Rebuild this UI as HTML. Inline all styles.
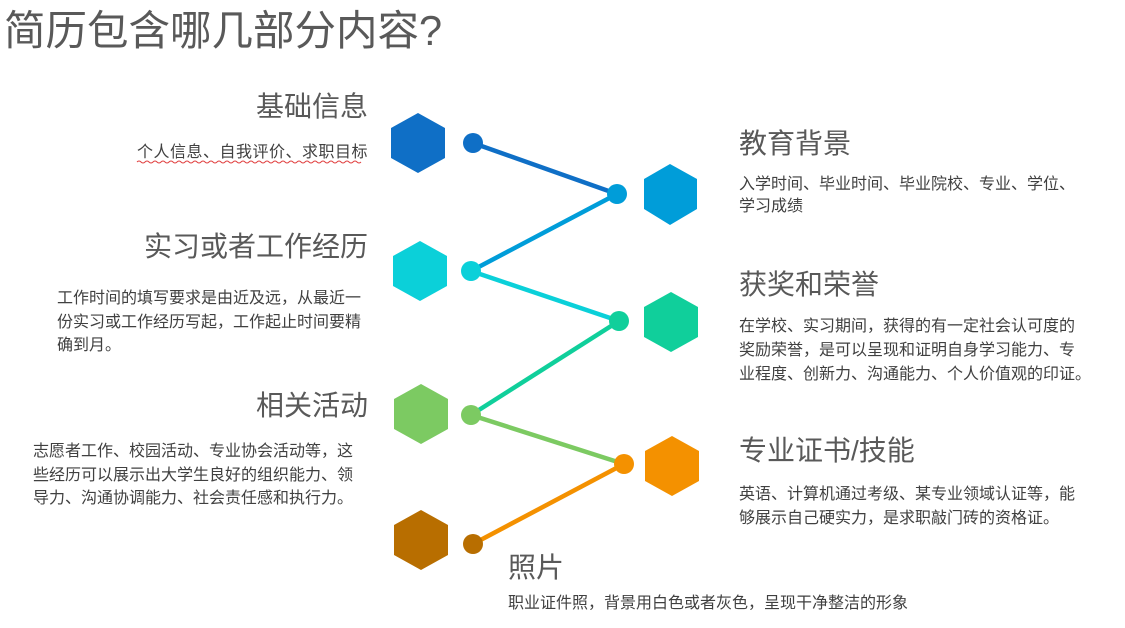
<!DOCTYPE html>
<html><head><meta charset="utf-8"><style>
body{margin:0;width:1125px;height:628px;background:#fff;position:relative;overflow:hidden;font-family:"Liberation Sans","Noto Sans CJK SC",sans-serif;color:#595959}
div{position:absolute;white-space:nowrap}
.h{font-size:28px;line-height:34px}
.p{font-size:16px;line-height:23.5px;color:#404040}
.r{text-align:right}
</style></head><body>
<div style="left:4px;top:6px;font-size:41.5px;line-height:50px;color:#595959">简历包含哪几部分内容?</div>
<svg width="1125" height="628" style="position:absolute;left:0;top:0">
<g stroke-width="4.5">
<line x1="473" y1="143" x2="617" y2="194" stroke="#0f6fc6"/>
<line x1="617" y1="194" x2="471" y2="271" stroke="#009dd9"/>
<line x1="471" y1="271" x2="619" y2="321" stroke="#0bd0d9"/>
<line x1="619" y1="321" x2="471" y2="415" stroke="#10cf9b"/>
<line x1="471" y1="415" x2="624" y2="464" stroke="#7cca62"/>
<line x1="624" y1="464" x2="473" y2="544" stroke="#f49100"/>
</g>
<circle cx="473" cy="143" r="10" fill="#0f6fc6"/>
<circle cx="617" cy="194" r="10" fill="#009dd9"/>
<circle cx="471" cy="271" r="10" fill="#0bd0d9"/>
<circle cx="619" cy="321" r="10" fill="#10cf9b"/>
<circle cx="471" cy="415" r="10" fill="#7cca62"/>
<circle cx="624" cy="464" r="10" fill="#f49100"/>
<circle cx="473" cy="544" r="10" fill="#b86e00"/>
<g>
<polygon fill="#0f6fc6" points="418,113 445,128 445,158 418,173 391,158 391,128"/>
<polygon fill="#009dd9" points="670,164 697,179 697,209 670,225 644,209 644,179"/>
<polygon fill="#0bd0d9" points="420,241 447,256 447,286 420,301 393,286 393,256"/>
<polygon fill="#10cf9b" points="671,292 698,307 698,337 671,352 644,337 644,307"/>
<polygon fill="#7cca62" points="421,384 448,399 448,429 421,444 394,429 394,399"/>
<polygon fill="#f49100" points="672,436 699,451 699,481 672,496 645,481 645,451"/>
<polygon fill="#b86e00" points="421,510 448,525 448,555 421,570 394,555 394,525"/>
</g>
<path d="M137 162 q2 -2 4 0 t4 0 t4 0 t4 0 t4 0 t4 0 t4 0 t4 0 t4 0 t4 0 t4 0 t4 0 t4 0 t4 0 t4 0 t4 0 t4 0 t4 0 t4 0 t4 0 t4 0 t4 0 t4 0 t4 0 t4 0 t4 0 t4 0 t4 0 t4 0 t4 0 t4 0 t4 0 t4 0 t4 0 t4 0 t4 0 t4 0 t4 0 t4 0 t4 0 t4 0 t4 0 t4 0 t4 0 t4 0 t4 0 t4 0 t4 0 t4 0 t4 0 t4 0 t4 0 t4 0 t4 0 t4 0 t4 0" fill="none" stroke="#e04040" stroke-width="1"/>
</svg>
<div class="h r" style="right:757px;top:90px">基础信息</div>
<div class="p r" style="right:757px;top:141px;letter-spacing:0.5px">个人信息、自我评价、求职目标</div>
<div class="h r" style="right:757px;top:230px">实习或者工作经历</div>
<div class="p" style="left:57px;top:287px">工作时间的填写要求是由近及远，从最近一<br>份实习或工作经历写起，工作起止时间要精<br>确到月。</div>
<div class="h r" style="right:757px;top:389px">相关活动</div>
<div class="p" style="left:33px;top:440px">志愿者工作、校园活动、专业协会活动等，这<br>些经历可以展示出大学生良好的组织能力、领<br>导力、沟通协调能力、社会责任感和执行力。</div>
<div class="h" style="left:739px;top:127px">教育背景</div>
<div class="p" style="left:739px;top:174px;line-height:22px">入学时间、毕业时间、毕业院校、专业、学位、<br>学习成绩</div>
<div class="h" style="left:739px;top:268px">获奖和荣誉</div>
<div class="p" style="left:739px;top:315px;line-height:24px">在学校、实习期间，获得的有一定社会认可度的<br>奖励荣誉，是可以呈现和证明自身学习能力、专<br>业程度、创新力、沟通能力、个人价值观的印证。</div>
<div class="h" style="left:739px;top:434px">专业证书/技能</div>
<div class="p" style="left:739px;top:483px;line-height:24px">英语、计算机通过考级、某专业领域认证等，能<br>够展示自己硬实力，是求职敲门砖的资格证。</div>
<div class="h" style="left:508px;top:551px">照片</div>
<div class="p" style="left:508px;top:592px">职业证件照，背景用白色或者灰色，呈现干净整洁的形象</div>
</body></html>
